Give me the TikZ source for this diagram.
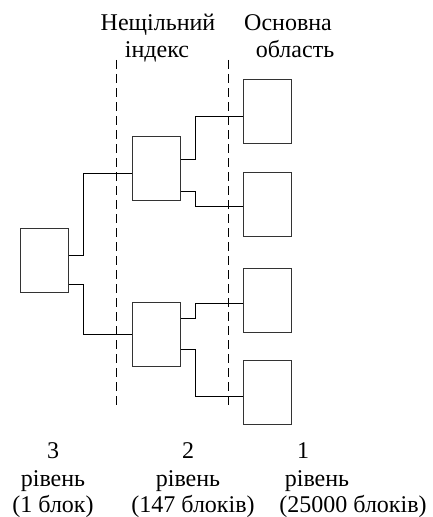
\documentclass[tikz,border=0pt]{standalone}
\usepackage{fontspec}
\setmainfont{Liberation Serif}
\usepackage{tikz}
\usetikzlibrary{positioning,calc}

\begin{document}
\begin{tikzpicture}[
  x=0.75pt, y=-0.75pt,
  font=\fontsize{18pt}{21pt}\selectfont,
  blk/.style={draw=black!80, line width=0.75pt, minimum width=36pt, minimum height=48pt, inner sep=0pt},
  lnk/.style={line width=0.75pt},
  sep/.style={line width=0.75pt, dash pattern=on 7pt off 3.5pt},
  lbl/.style={anchor=base, inner sep=0pt}]
\useasboundingbox (0,0) rectangle (432,517);
% ---------------- blocks ----------------
\node[blk] (root) at (44,260) {};
\node[blk] (up)   at (156,168.5) {};
\node[blk] (lo)   at (156,334) {};
\node[blk] (d1)   at (267,111.5) {};
\node[blk] (d2)   at (267,204) {};
\node[blk] (d3)   at (267,300) {};
\node[blk] (d4)   at (267,392) {};
% ---------------- separators ----------------
\coordinate (s1a) at (116,60);  \coordinate (s1b) at (116,407);
\coordinate (s2a) at (228,60);  \coordinate (s2b) at (228,406);
\draw[sep] (s1a) -- (s1b);
\draw[sep] (s2a) -- (s2b);
% ---------------- connections ----------------
\draw[lnk] ([yshift=3.75pt]root.east) -- ++(15,0) |- ([yshift=-3.4pt]up.west);
\draw[lnk] ([yshift=-18pt]root.east) -- ++(15,0) |- (lo.west);
\draw[lnk] ([yshift=7.1pt]up.east) -- ++(15,0) |- ([yshift=-3.4pt]d1.west);
\draw[lnk] ([yshift=-17.6pt]up.east) -- ++(15,0) |- ([yshift=-1.5pt]d2.west);
\draw[lnk] ([yshift=12pt]lo.east) -- ++(15,0) |- ([yshift=-2.25pt]d3.west);
\draw[lnk] ([yshift=-11.25pt]lo.east) -- ++(15,0) |- ([yshift=-3pt]d4.west);
% ---------------- headings ----------------
\node[lbl] (h1a) at (158,31) {Нещільний};
\node[lbl] (h1b) at (157,58) {індекс};
\node[lbl] (h2a) at (288,31) {Основна};
\node[lbl] (h2b) at (295,58) {область};
% ---------------- level captions ----------------
\node[lbl] (l3a) at (53,458) {3};
\node[lbl] (l3b) at (53,486) {рівень};
\node[lbl] (l3c) at (53,512) {(1 блок)};
\node[lbl] (l2a) at (188,458) {2};
\node[lbl] (l2b) at (188,486) {рівень};
\node[lbl] (l2c) at (193,512) {(147 блоків)};
\node[lbl] (l1a) at (303,458) {1};
\node[lbl] (l1b) at (317,486) {рівень};
\node[lbl] (l1c) at (353,512) {(25000 блоків)};
\end{tikzpicture}
\end{document}
